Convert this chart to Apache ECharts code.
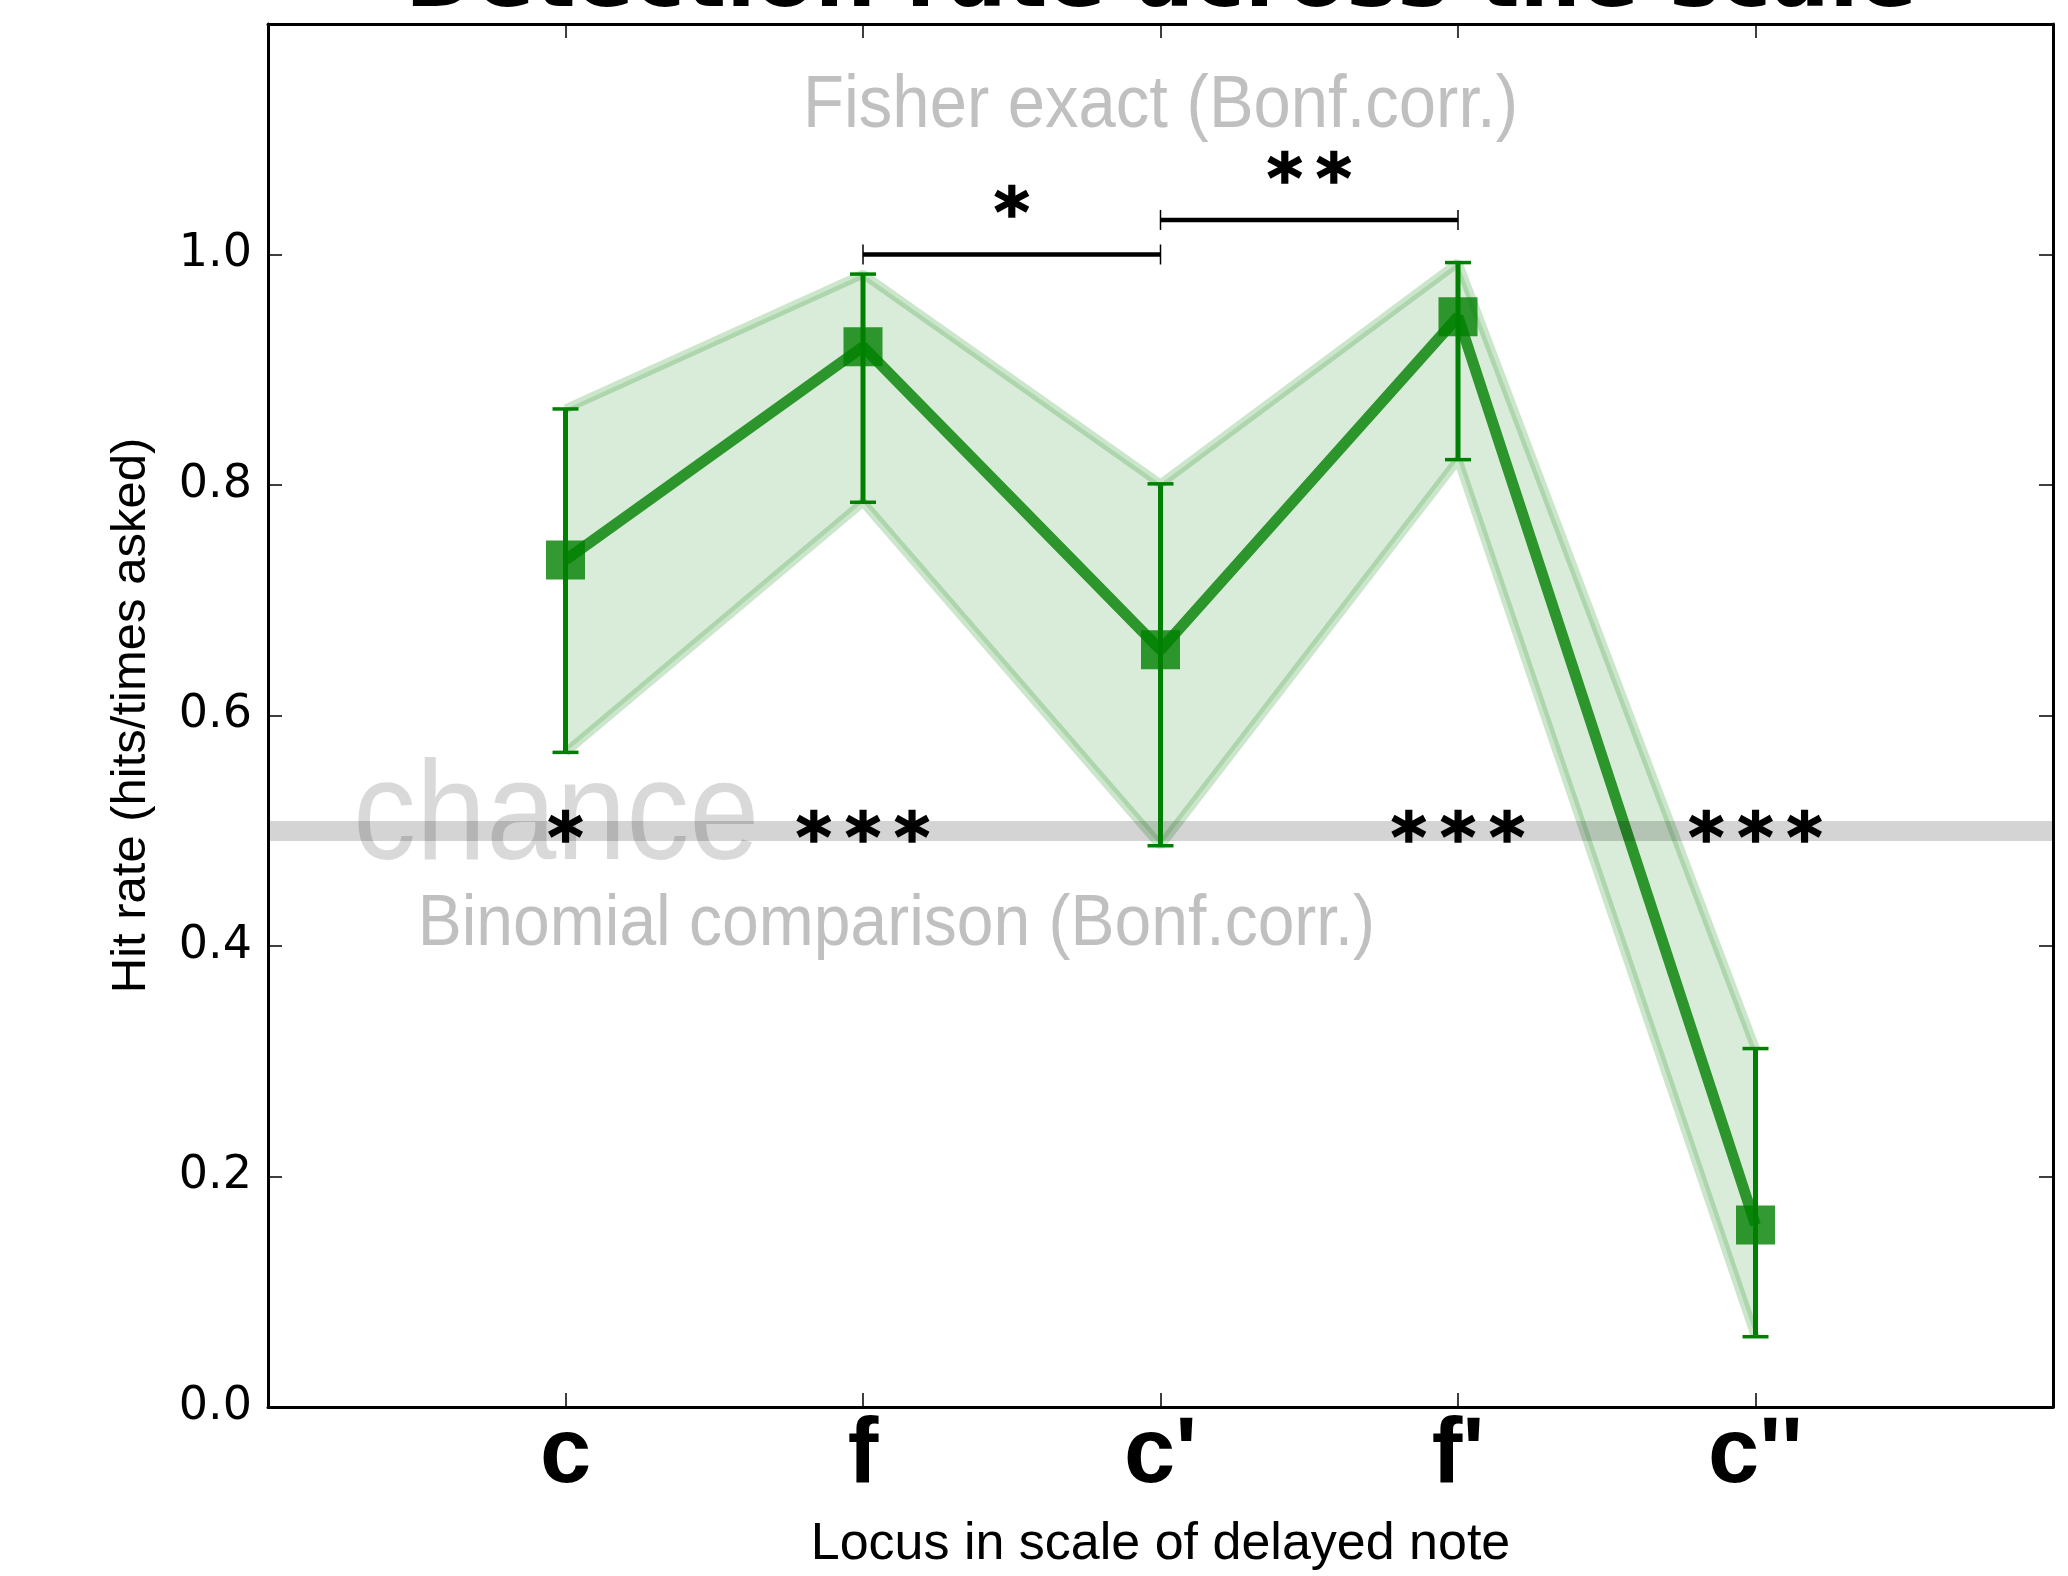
<!DOCTYPE html>
<html>
<head>
<meta charset="utf-8">
<script src="https://cdn.jsdelivr.net/npm/echarts@6/dist/echarts.min.js"></script>
<style>html,body{margin:0;padding:0;background:#fff;}#chart{width:2068px;height:1576px;}</style>
</head>
<body>
<div id="chart"></div>
<script>
// ---- data ----
const categories = ['c', 'f', "c'", "f'", "c''"];
const hitRate = [0.735, 0.920, 0.657, 0.946, 0.158];
const ciLow = [0.568, 0.785, 0.487, 0.822, 0.061];
const ciHigh = [0.866, 0.983, 0.801, 0.993, 0.311];
const chanceLevel = 0.5;
const binomStars = ['*', '***', '', '***', '***'];
const fisherFrom = [1, 2];
const fisherTo = [2, 3];
const fisherLevel = [1.0, 1.03];
const fisherStars = ['*', '**'];
const yTicks = [0, 0.2, 0.4, 0.6, 0.8, 1.0];

const chart = echarts.init(document.getElementById('chart'));
const GREEN = '#008000';
const tickFont = 'DejaVu Sans';
const narrow = '"Liberation Sans Narrow", "Liberation Sans", sans-serif';
const spaced = s => s.split('').join('\u2009');

const commonX = {
  type: 'value', min: -1, max: 5, interval: 1,
  splitLine: { show: false },
  axisLine: { show: true, onZero: false, lineStyle: { color: '#000', width: 3 } },
  axisTick: { show: true, inside: true, length: 14, lineStyle: { color: '#000', width: 1.5 } }
};
const commonY = {
  type: 'value', min: 0, max: 1.2, interval: 0.2,
  splitLine: { show: false },
  axisLine: { show: true, onZero: false, lineStyle: { color: '#000', width: 3 } },
  axisTick: { show: true, inside: true, length: 14, lineStyle: { color: '#000', width: 1.5 } }
};

const option = {
  animation: false,
  backgroundColor: '#fff',
  grid: { left: 268, right: 15, top: 24, bottom: 167, containLabel: false },
  graphic: [{
    type: 'text', x: 1161, y: -59,
    style: { text: 'Detection rate across the scale', fontSize: 86, fontWeight: 'bold', fontFamily: tickFont, fill: '#000', align: 'center', verticalAlign: 'top' }
  }],
  xAxis: [
    Object.assign({}, commonX, {
      position: 'bottom',
      name: 'Locus in scale of delayed note', nameLocation: 'middle', nameGap: 112,
      nameTextStyle: { fontFamily: narrow, fontSize: 52, color: '#000' },
      axisLabel: {
        margin: 4, fontFamily: narrow, fontWeight: 'bold', fontSize: 92, color: '#000',
        formatter: v => (v >= 0 && v < categories.length) ? categories[v] : ''
      }
    }),
    Object.assign({}, commonX, { position: 'top', axisLabel: { show: false } })
  ],
  yAxis: [
    Object.assign({}, commonY, {
      position: 'left',
      name: 'Hit rate (hits/times asked)', nameLocation: 'middle', nameGap: 112,
      nameTextStyle: { fontFamily: narrow, fontSize: 49, color: '#000' },
      axisLabel: {
        margin: 16, fontFamily: tickFont, fontSize: 46, color: '#000',
        formatter: v => (yTicks.some(t => Math.abs(t - v) < 1e-6)) ? v.toFixed(1) : ''
      }
    }),
    Object.assign({}, commonY, { position: 'right', axisLabel: { show: false } })
  ],
  series: [
    // confidence band fill
    {
      type: 'custom', z: 1, silent: true, clip: false,
      data: hitRate.map((v, i) => [i, v]),
      encode: { x: 0, y: 1 },
      renderItem: (params, api) => {
        if (params.dataIndex !== 0) return null;
        const pts = [];
        for (let i = 0; i < ciHigh.length; i++) pts.push(api.coord([i, ciHigh[i]]));
        for (let i = ciLow.length - 1; i >= 0; i--) pts.push(api.coord([i, ciLow[i]]));
        return { type: 'polygon', shape: { points: pts }, style: { fill: 'rgba(0,128,0,0.15)' } };
      }
    },
    // band edges
    {
      type: 'line', z: 2, symbol: 'none', silent: true,
      data: ciHigh.map((v, i) => [i, v]),
      lineStyle: { color: 'rgba(0,128,0,0.2)', width: 9 },
      markLine: {
        silent: true, symbol: 'none', label: { show: false },
        lineStyle: { type: 'solid', color: 'rgba(0,0,0,0.17)', width: 20 },
        data: [{ yAxis: chanceLevel }]
      }
    },
    {
      type: 'line', z: 2, symbol: 'none', silent: true,
      data: ciLow.map((v, i) => [i, v]),
      lineStyle: { color: 'rgba(0,128,0,0.2)', width: 9 }
    },
    // annotation texts
    {
      type: 'custom', z: 3, silent: true, clip: false,
      data: [[-0.714, 0.448], [2, 1.128], [-0.497, 0.418]],
      encode: { x: 0, y: 1 },
      renderItem: (params, api) => {
        const p = api.coord([api.value(0), api.value(1)]);
        const i = params.dataIndex;
        if (i === 0) {
          return { type: 'text', x: p[0], y: p[1], scaleX: 1, scaleY: 1.12,
            style: { text: 'chance', fontFamily: 'Liberation Sans', fontSize: 126, fill: 'rgba(0,0,0,0.15)', align: 'left', verticalAlign: 'bottom' } };
        }
        if (i === 1) {
          return { type: 'text', x: p[0], y: p[1], scaleY: 1.1,
            style: { text: 'Fisher exact (Bonf.corr.)', fontFamily: narrow, fontSize: 67, fill: '#c0c0c0', align: 'center', verticalAlign: 'middle' } };
        }
        return { type: 'text', x: p[0], y: p[1], scaleY: 1.1,
          style: { text: 'Binomial comparison (Bonf.corr.)', fontFamily: narrow, fontSize: 66, fill: '#c0c0c0', align: 'left', verticalAlign: 'middle' } };
      }
    },
    // main line
    {
      type: 'line', z: 4, symbol: 'none', silent: true,
      data: hitRate.map((v, i) => [i, v]),
      lineStyle: { color: 'rgba(0,128,0,0.8)', width: 11 }
    },
    // error bars
    {
      type: 'custom', z: 5, silent: true, clip: false,
      data: hitRate.map((v, i) => [i, ciLow[i], ciHigh[i]]),
      encode: { x: 0, y: [1, 2] },
      renderItem: (params, api) => {
        const x = api.value(0);
        const lo = api.coord([x, api.value(1)]);
        const hi = api.coord([x, api.value(2)]);
        const cw = 13;
        return { type: 'group', children: [
          { type: 'line', shape: { x1: lo[0], y1: lo[1], x2: hi[0], y2: hi[1] }, style: { stroke: GREEN, lineWidth: 5 } },
          { type: 'line', shape: { x1: lo[0] - cw, y1: lo[1], x2: lo[0] + cw, y2: lo[1] }, style: { stroke: GREEN, lineWidth: 3.5 } },
          { type: 'line', shape: { x1: hi[0] - cw, y1: hi[1], x2: hi[0] + cw, y2: hi[1] }, style: { stroke: GREEN, lineWidth: 3.5 } }
        ] };
      }
    },
    // markers
    {
      type: 'scatter', z: 6, silent: true,
      data: hitRate.map((v, i) => [i, v]),
      symbol: 'rect', symbolSize: 39,
      itemStyle: { color: 'rgba(0,128,0,0.8)', opacity: 1 }
    },
    // binomial stars at chance
    {
      type: 'custom', z: 7, silent: true, clip: false,
      data: binomStars.map((s, i) => [i, chanceLevel]),
      encode: { x: 0, y: 1 },
      renderItem: (params, api) => {
        const p = api.coord([api.value(0), api.value(1)]);
        return { type: 'text', x: p[0], y: p[1] + 13,
          style: { text: spaced(binomStars[params.dataIndex]), fontFamily: tickFont, fontWeight: 'bold', fontSize: 68, fill: '#000', stroke: '#000', lineWidth: 1.5, align: 'center', verticalAlign: 'middle' } };
      }
    },
    // Fisher brackets
    {
      type: 'custom', z: 7, silent: true, clip: false,
      data: fisherFrom.map((f, i) => [f, fisherTo[i], fisherLevel[i]]),
      encode: { x: [0, 1], y: 2 },
      renderItem: (params, api) => {
        const a = api.coord([api.value(0), api.value(2)]);
        const b = api.coord([api.value(1), api.value(2)]);
        const h = 10;
        return { type: 'group', children: [
          { type: 'line', shape: { x1: a[0], y1: a[1], x2: b[0], y2: b[1] }, style: { stroke: '#000', lineWidth: 4.5 } },
          { type: 'line', shape: { x1: a[0], y1: a[1] - h, x2: a[0], y2: a[1] + h }, style: { stroke: '#000', lineWidth: 1.5 } },
          { type: 'line', shape: { x1: b[0], y1: b[1] - h, x2: b[0], y2: b[1] + h }, style: { stroke: '#000', lineWidth: 1.5 } },
          { type: 'text', x: (a[0] + b[0]) / 2, y: a[1] - 36,
            style: { text: spaced(fisherStars[params.dataIndex]), fontFamily: tickFont, fontWeight: 'bold', fontSize: 68, fill: '#000', stroke: '#000', lineWidth: 1.5, align: 'center', verticalAlign: 'middle' } }
        ] };
      }
    }
  ]
};
chart.setOption(option);
</script>
</body>
</html>
